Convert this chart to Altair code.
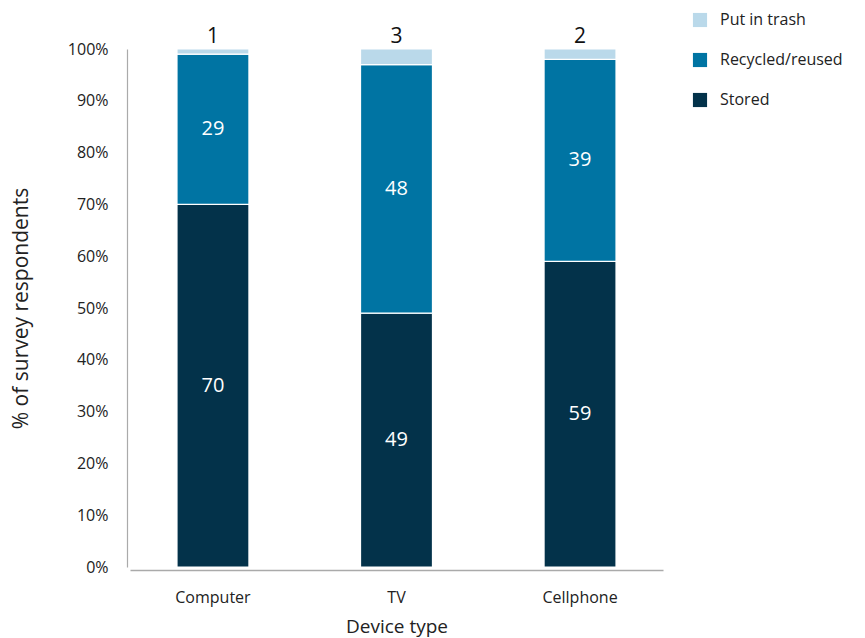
import altair as alt
import pandas as pd

devices = ["Computer", "TV", "Cellphone"]
stored = [70, 49, 59]
recycled = [29, 48, 39]
trash = [1, 3, 2]

categories = ["Put in trash", "Recycled/reused", "Stored"]
colors = ["#bad9ea", "#0074a3", "#03324a"]
stack_rank = {"Stored": 0, "Recycled/reused": 1, "Put in trash": 2}

rows = []
for i, d in enumerate(devices):
    for cat, vals in (("Stored", stored), ("Recycled/reused", recycled), ("Put in trash", trash)):
        rows.append({"device": d, "category": cat, "value": vals[i], "rank": stack_rank[cat]})
df = pd.DataFrame(rows)

FONT = "Open Sans"

base = alt.Chart(df).transform_stack(
    stack="value", groupby=["device"], as_=["v0", "v1"],
    sort=[alt.SortField("rank", order="ascending")]
).transform_calculate(
    mid="(datum.v0 + datum.v1) / 2"
)

x_enc = alt.X("device:N", sort=devices, title="Device type",
              scale=alt.Scale(paddingInner=0.608, paddingOuter=0.256),
              axis=alt.Axis(labelAngle=0, labelFontSize=16, labelFont=FONT, labelColor="#222",
                            titleFontSize=19, titleFont=FONT, titleFontWeight="normal", titleColor="#222",
                            titlePadding=12, labelPadding=19, grid=False, offset=3,
                            ticks=False, domainColor="#aaaaaa", domainWidth=1.5))

bars = base.mark_bar(stroke="white", strokeWidth=1.2).encode(
    x=x_enc,
    y=alt.Y("v0:Q", scale=alt.Scale(domain=[0, 100], nice=False), title="% of survey respondents",
            axis=alt.Axis(values=list(range(0, 101, 10)), labelExpr="datum.value + '%'",
                          grid=False, ticks=False, labelFontSize=16, labelFont=FONT, labelColor="#222",
                          labelPadding=19, offset=3, domainColor="#aaaaaa", domainWidth=1.2,
                          titleFontSize=21, titleFont=FONT, titleFontWeight="normal", titleColor="#222",
                          titlePadding=36)),
    y2="v1:Q",
    color=alt.Color("category:N", scale=alt.Scale(domain=categories, range=colors),
                    legend=alt.Legend(title=None, orient="none", legendX=562, legendY=-37,
                                      symbolType="square", symbolSize=200, symbolStrokeWidth=0,
                                      labelFontSize=16, labelFont=FONT, labelColor="#222",
                                      rowPadding=24, labelOffset=12)),
)

inner = base.transform_filter("datum.category != 'Put in trash'").mark_text(
    color="white", fontSize=20, font=FONT, baseline="middle"
).encode(x=alt.X("device:N", sort=devices), y="mid:Q", text="value:Q")

top = base.transform_filter("datum.category == 'Put in trash'").mark_text(
    color="#111", fontSize=21, font=FONT, baseline="bottom", dy=-2
).encode(x=alt.X("device:N", sort=devices), y="v1:Q", text="value:Q")

chart = alt.layer(bars, inner, top).properties(
    width=533, height=518,
    background="white",
    autosize=alt.AutoSizeParams(type="none"),
    padding={"left": 130, "top": 49, "right": 202, "bottom": 71},
).configure_view(stroke="white", strokeWidth=3)

chart.save("out.html", embed_options={"renderer": "svg", "actions": False})
